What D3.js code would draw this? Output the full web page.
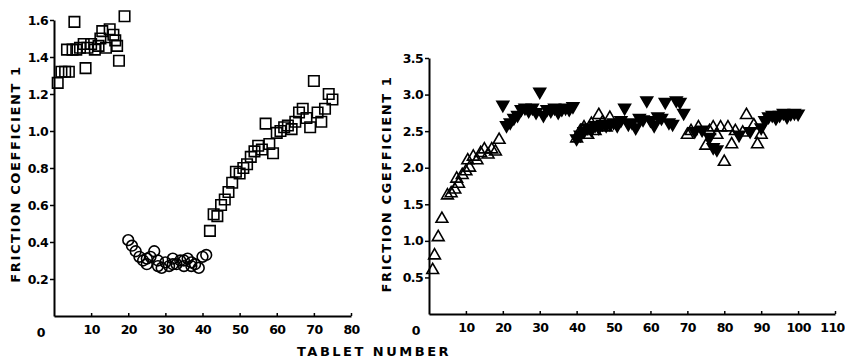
<!DOCTYPE html>
<html>
<head>
<meta charset="utf-8">
<script src="https://cdn.jsdelivr.net/npm/d3@7"></script>
<style>
  body { margin: 0; background: #fff; }
  text { font-family: "DejaVu Sans", sans-serif; font-weight: bold; fill: #000; }
</style>
</head>
<body>
<div id="chart"></div>
<script>
// left panel: tablet number vs friction coefficient
var leftSquaresA_x = [1, 2, 3, 3.5, 4, 5, 5.5, 6, 7, 8, 8.5, 9, 10, 11, 12, 12.5, 13, 14, 15, 16, 16.5, 17, 17.5, 19];
var leftSquaresA_y = [1.26, 1.32, 1.32, 1.44, 1.32, 1.44, 1.59, 1.44, 1.45, 1.47, 1.34, 1.45, 1.47, 1.44, 1.46, 1.50, 1.54, 1.45, 1.55, 1.52, 1.49, 1.46, 1.38, 1.62];
var leftCircles_x = [20, 21, 22, 23, 24, 25, 26, 27, 28, 29, 30, 31, 32, 33, 34, 35, 36, 37, 38, 39, 40, 41, 25, 28, 32, 35, 37];
var leftCircles_y = [0.41, 0.38, 0.35, 0.32, 0.30, 0.28, 0.32, 0.35, 0.30, 0.26, 0.29, 0.27, 0.31, 0.28, 0.30, 0.27, 0.31, 0.29, 0.28, 0.26, 0.32, 0.33, 0.31, 0.27, 0.28, 0.30, 0.27];
var leftSquaresB_x = [42, 43, 44, 45, 46, 47, 48, 49, 50, 51, 52, 53, 54, 55, 56, 57, 58, 59, 60, 61, 62, 63, 64, 65, 66, 67, 68, 69, 70, 71, 72, 73, 74, 75];
var leftSquaresB_y = [0.46, 0.55, 0.54, 0.60, 0.63, 0.67, 0.72, 0.78, 0.77, 0.80, 0.82, 0.86, 0.89, 0.92, 0.90, 1.04, 0.93, 0.88, 0.99, 1.00, 1.02, 1.03, 1.01, 1.05, 1.10, 1.12, 1.07, 1.02, 1.27, 1.10, 1.05, 1.12, 1.20, 1.17];

// right panel
var rightOpen_x = [1, 1.5, 2.5, 3.5, 5, 6, 7, 7.5, 8, 9, 10, 10.5, 11, 12, 13, 14, 15, 16, 17, 18, 19,
                   40, 41, 42, 43, 44, 45, 46, 47, 48, 49,
                   70, 71, 73, 75, 76, 77, 78, 79, 80, 81, 82, 83, 85, 86, 88, 89, 90];
var rightOpen_y = [0.60, 0.80, 1.05, 1.30, 1.62, 1.65, 1.70, 1.85, 1.78, 1.90, 1.95, 2.10, 2.00, 2.15, 2.10, 2.20, 2.25, 2.18, 2.25, 2.22, 2.38,
                   2.40, 2.50, 2.55, 2.45, 2.60, 2.50, 2.72, 2.62, 2.55, 2.68,
                   2.45, 2.50, 2.55, 2.30, 2.50, 2.55, 2.45, 2.55, 2.08, 2.55, 2.32, 2.50, 2.48, 2.72, 2.58, 2.32, 2.45];
var rightFilled_x = [20, 21, 22, 23, 24, 25, 26, 27, 28, 29, 30, 31, 32, 33, 34, 35, 36, 37, 38, 39,
                     40, 41, 42, 43, 44, 45, 46, 47, 48, 49, 50, 51, 52, 53, 54, 55, 56, 57, 58, 59, 60, 61, 62, 63, 64, 65, 66, 67, 68, 69,
                     72, 74, 76, 77, 78, 84, 87, 90, 91, 92, 93, 94, 95, 96, 97, 98, 99, 100];
var rightFilled_y = [2.86, 2.58, 2.62, 2.68, 2.72, 2.80, 2.82, 2.78, 2.82, 2.76, 3.04, 2.72, 2.80, 2.78, 2.82, 2.76, 2.80, 2.82, 2.80, 2.84,
                     2.40, 2.45, 2.50, 2.55, 2.52, 2.58, 2.55, 2.60, 2.58, 2.60, 2.62, 2.58, 2.65, 2.82, 2.60, 2.62, 2.55, 2.68, 2.66, 2.92, 2.65, 2.58, 2.70, 2.68, 2.90, 2.62, 2.60, 2.92, 2.90, 2.75,
                     2.50, 2.52, 2.42, 2.28, 2.25, 2.45, 2.50, 2.55, 2.65, 2.70, 2.72, 2.68, 2.72, 2.75, 2.70, 2.74, 2.75, 2.74];

var leftXTicks = [10, 20, 30, 40, 50, 60, 70, 80];
var leftYTicks = [0.2, 0.4, 0.6, 0.8, 1.0, 1.2, 1.4, 1.6];
var rightXTicks = [10, 20, 30, 40, 50, 60, 70, 80, 90, 100, 110];
var rightYTicks = [0.5, 1.0, 1.5, 2.0, 2.5, 3.0, 3.5];

var width = 845, height = 362;
var svg = d3.select('#chart').append('svg')
  .attr('width', width).attr('height', height);

function zip(xs, ys) { return xs.map(function(x, i) { return {x: x, y: ys[i]}; }); }

function drawPanel(opt) {
  var x = d3.scaleLinear().domain([0, opt.xMax]).range([opt.x0, opt.x1]);
  var y = d3.scaleLinear().domain([0, opt.yMax]).range([opt.y0, opt.y1]);
  var g = svg.append('g');

  var xAxis = d3.axisBottom(x).tickValues(opt.xTicks).tickSize(-3).tickSizeOuter(0).tickPadding(9).tickFormat(d3.format('d'));
  var gx = g.append('g').attr('transform', 'translate(0,' + opt.y0 + ')').call(xAxis);
  var yAxis = d3.axisLeft(y).tickValues(opt.yTicks).tickSize(4).tickSizeOuter(0).tickPadding(2).tickFormat(d3.format('.1f'));
  var gy = g.append('g').attr('transform', 'translate(' + opt.x0 + ',0)').call(yAxis);
  [gx, gy].forEach(function(a) {
    a.select('.domain').attr('stroke', '#000').attr('stroke-width', 2);
    a.selectAll('.tick line').attr('stroke', '#000').attr('stroke-width', 1.5);
    a.selectAll('text').style('font-size', '12.5px').style('letter-spacing', '-0.6px').attr('fill', '#000');
  });
  // keep the last x label inside the page
  gx.selectAll('.tick text').filter(function(d) { return d === 110; }).attr('dx', -3);
  // origin "0"
  g.append('text').attr('x', opt.x0 - 13).attr('y', opt.y0 + 21)
    .attr('text-anchor', 'middle').style('font-size', '12.5px').text('0');
  // y label
  g.append('text')
    .attr('transform', 'translate(' + opt.labelX + ',' + opt.labelY + ') rotate(-90)')
    .attr('text-anchor', 'middle').style('font-size', '13px').style('letter-spacing', '1.6px')
    .text(opt.yLabel);

  opt.series.forEach(function(s) {
    var sym = d3.symbol().type(s.type).size(s.size);
    g.selectAll(null).data(s.data).enter().append('path')
      .attr('d', sym)
      .attr('transform', function(d) {
        return 'translate(' + x(d.x) + ',' + y(d.y) + ')' + (s.flip ? ' rotate(180)' : '');
      })
      .attr('fill', s.fill).attr('stroke', '#000').attr('stroke-width', 1.6);
  });
}

drawPanel({
  x0: 54, x1: 351, y0: 316, y1: 20, xMax: 80, yMax: 1.6,
  xTicks: leftXTicks, yTicks: leftYTicks,
  labelX: 20, labelY: 174, yLabel: 'FRICTION COEFFICIENT 1',
  series: [
    {data: zip(leftSquaresA_x, leftSquaresA_y), type: d3.symbolSquare, size: 110, fill: 'none'},
    {data: zip(leftCircles_x, leftCircles_y), type: d3.symbolCircle, size: 90, fill: 'none'},
    {data: zip(leftSquaresB_x, leftSquaresB_y), type: d3.symbolSquare, size: 110, fill: 'none'}
  ]
});

drawPanel({
  x0: 429, x1: 835, y0: 314, y1: 58, xMax: 110, yMax: 3.5,
  xTicks: rightXTicks, yTicks: rightYTicks,
  labelX: 391, labelY: 184, yLabel: 'FRICTION CGEFFICIENT 1',
  series: [
    {data: zip(rightOpen_x, rightOpen_y), type: d3.symbolTriangle, size: 60, fill: 'none'},
    {data: zip(rightFilled_x, rightFilled_y), type: d3.symbolTriangle, size: 60, fill: '#000', flip: true}
  ]
});

svg.append('text').attr('x', 374).attr('y', 356).attr('text-anchor', 'middle')
  .style('font-size', '13px').style('letter-spacing', '2.5px').text('TABLET  NUMBER');
</script>
</body>
</html>
